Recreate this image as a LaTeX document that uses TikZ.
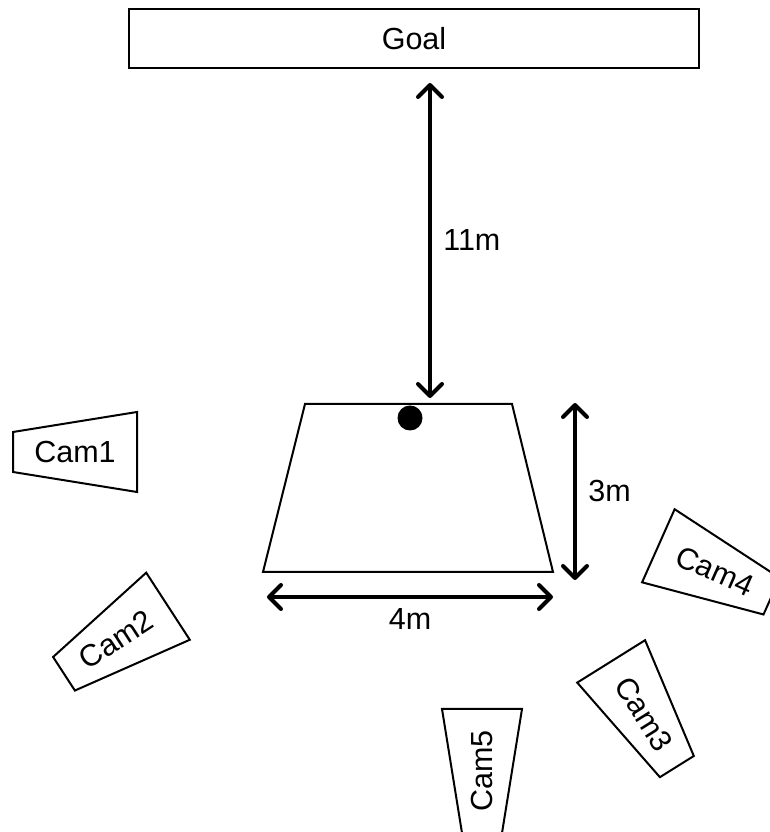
\documentclass[tikz,border=0pt]{standalone}
\usepackage{fontspec}
\setmainfont{Liberation Sans}
\usetikzlibrary{calc,positioning,arrows.meta}

% one camera: name, centre, axis angle, text angle, label
\newcommand{\camera}[5]{%
    \begin{scope}[shift={#2}, rotate=#3]
        \draw[cambox] (-62,-20) -- (-62,20) -- (62,40) -- (62,-40) -- cycle;
    \end{scope}
    \node[lab, rotate=#4] (#1) at #2 {#5};
}

\begin{document}
\begin{tikzpicture}[
        x=1pt, y=1pt,
        font=\fontsize{30.5}{36}\selectfont,
        box/.style={draw, line width=2pt, minimum width=570pt, minimum height=59pt, inner sep=0pt},
        cambox/.style={draw, line width=2pt, line join=miter},
        lab/.style={inner sep=0pt},
        dim/.style={line width=4pt, {Straight Barb[length=12pt,width=24pt,line cap=round,line join=round]}-{Straight Barb[length=12pt,width=24pt,line cap=round,line join=round]}}
    ]
        \useasboundingbox (0,0) rectangle (769,832);

        % Goal
        \node[box] (goal) at (414,793) {Goal};

        % Field
        \coordinate (tl) at (305,428);
        \coordinate (tr) at (512,428);
        \coordinate (bl) at (263,260);
        \coordinate (br) at (553,260);
        \draw[line width=2pt] (tl) -- (tr) -- (br) -- (bl) -- cycle;
        \node[circle, fill, inner sep=0pt, minimum size=25pt] (ball) at (410,414) {};

        % Distances
        \coordinate (d11a) at (430,749);
        \coordinate (d11b) at (430,434);
        \draw[dim] (d11a) -- (d11b) node[midway, right=8pt] (l11) {11m};

        \coordinate (d3a) at (575,429);
        \coordinate (d3b) at (575,252);
        \draw[dim] (d3a) -- (d3b) node[midway, right=8pt] (l3) {3m};

        \coordinate (d4a) at (267,235);
        \coordinate (d4b) at (553,235);
        \draw[dim] (d4a) -- (d4b) node[midway, below=6pt] (l4) {4m};

        % Cameras
        \camera{cam1}{(75,380)}{0}{0}{Cam1}
        \camera{cam2}{(116,192)}{33}{33}{Cam2}
        \camera{cam3}{(644,118)}{122}{-58}{Cam3}
        \camera{cam4}{(715,261)}{156}{-24}{Cam4}
        \camera{cam5}{(482,61)}{90}{90}{Cam5}
    \end{tikzpicture}
\end{document}
